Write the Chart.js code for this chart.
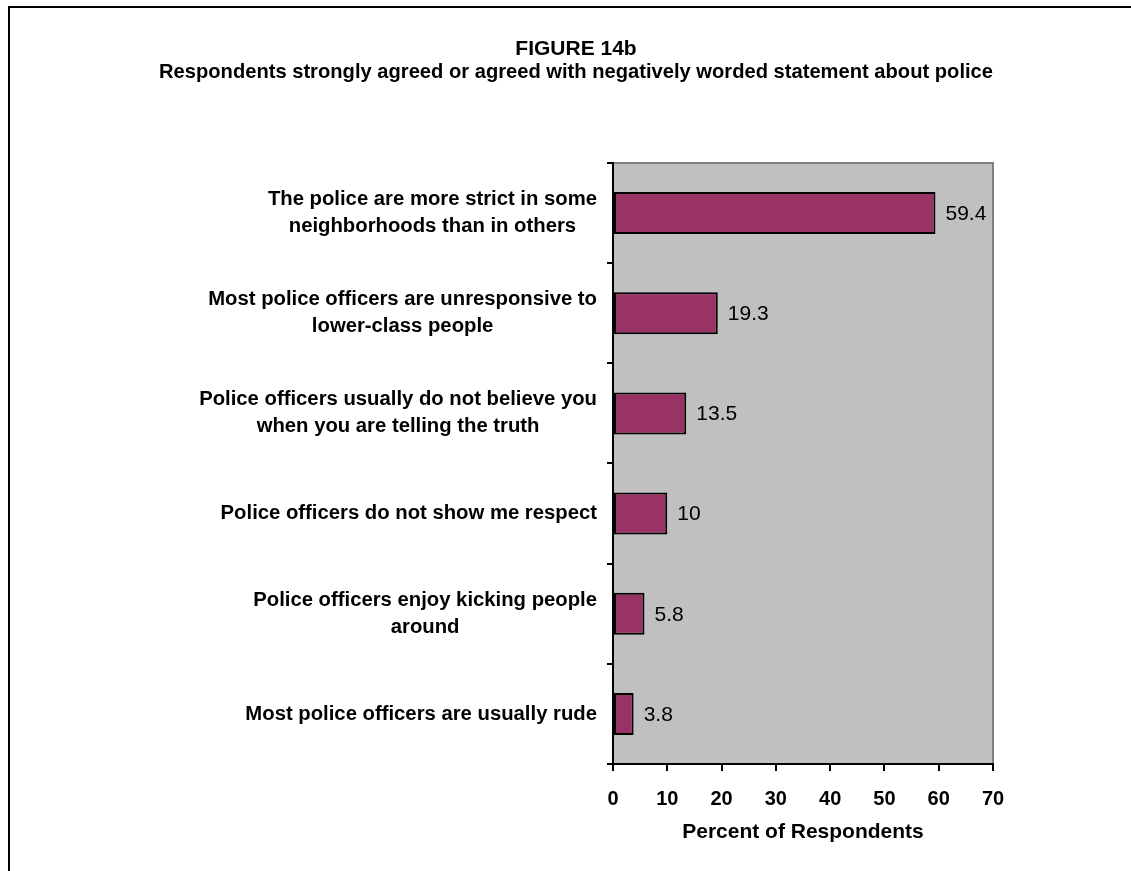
<!DOCTYPE html>
<html>
<head>
<meta charset="utf-8">
<title>Figure 14b</title>
<script src="https://cdn.jsdelivr.net/npm/chart.js@4/dist/chart.umd.min.js"></script>
<style>
    html, body { margin: 0; padding: 0; background: #fff; overflow: hidden; }
    .frame {
        position: absolute; left: 8px; top: 6px; width: 1200px; height: 1000px;
        border-top: 2px solid #000; border-left: 2px solid #000;
    }
    #fig14b { position: absolute; left: 0; top: 0; }
</style>
</head>
<body>
<div class="frame"></div>
<canvas id="fig14b" width="1131" height="871"></canvas>
<script>
var titleLines = [
    'FIGURE 14b',
    'Respondents strongly agreed or agreed with negatively worded statement about police'
];
var statements = [
    ['The police are more strict in some', 'neighborhoods than in others'],
    ['Most police officers are unresponsive to', 'lower-class people'],
    ['Police officers usually do not believe you', 'when you are telling the truth'],
    ['Police officers do not show me respect'],
    ['Police officers enjoy kicking people', 'around'],
    ['Most police officers are usually rude']
];
var percents = [59.4, 19.3, 13.5, 10, 5.8, 3.8];
var xTickValues = [0, 10, 20, 30, 40, 50, 60, 70];
var xAxisTitle = 'Percent of Respondents';

(function () {
    'use strict';

    var FONT = '"Liberation Sans", Arial, Helvetica, sans-serif';

    // grey plot area, grey edge on top and right
    var plotBackground = {
        id: 'plotBackground',
        beforeDraw: function (chart) {
            var a = chart.chartArea, ctx = chart.ctx;
            ctx.save();
            ctx.fillStyle = '#c0c0c0';
            ctx.fillRect(a.left, a.top, a.right - a.left, a.bottom - a.top);
            ctx.strokeStyle = '#808080';
            ctx.lineWidth = 2;
            ctx.beginPath();
            ctx.moveTo(a.left, a.top);
            ctx.lineTo(a.right, a.top);
            ctx.lineTo(a.right, a.bottom);
            ctx.stroke();
            ctx.restore();
        }
    };

    // category labels: block right aligned, lines centred inside the block
    var statementLabels = {
        id: 'statementLabels',
        afterDraw: function (chart) {
            var ctx = chart.ctx, y = chart.scales.y;
            var rightEdge = chart.chartArea.left - 16;
            var lineH = 27;
            ctx.save();
            ctx.font = 'bold 20.3px ' + FONT;
            ctx.fillStyle = '#000';
            ctx.textAlign = 'center';
            ctx.textBaseline = 'middle';
            statements.forEach(function (lines, i) {
                var w = 0;
                lines.forEach(function (l) { w = Math.max(w, ctx.measureText(l).width); });
                var cx = rightEdge - w / 2;
                var cy = y.getPixelForValue(i);
                lines.forEach(function (l, j) {
                    ctx.fillText(l, cx, cy + (j - (lines.length - 1) / 2) * lineH);
                });
            });
            ctx.restore();
        }
    };

    // value next to the end of each bar
    var barValues = {
        id: 'barValues',
        afterDatasetsDraw: function (chart) {
            var ctx = chart.ctx;
            var meta = chart.getDatasetMeta(0);
            ctx.save();
            ctx.font = '21px ' + FONT;
            ctx.fillStyle = '#000';
            ctx.textAlign = 'left';
            ctx.textBaseline = 'middle';
            meta.data.forEach(function (bar, i) {
                ctx.fillText(String(percents[i]), bar.x + 10, bar.y + 1);
            });
            ctx.restore();
        }
    };

    new Chart(document.getElementById('fig14b').getContext('2d'), {
        type: 'bar',
        data: {
            labels: statements,
            datasets: [{
                data: percents,
                backgroundColor: '#993366',
                borderColor: '#000',
                borderWidth: 2,
                borderSkipped: false,
                barPercentage: 0.42,
                categoryPercentage: 1
            }]
        },
        options: {
            indexAxis: 'y',
            responsive: false,
            animation: false,
            devicePixelRatio: 1,
            layout: { padding: { left: 159, right: 138, top: 0, bottom: 0 } },
            plugins: {
                legend: { display: false },
                tooltip: { enabled: false },
                title: {
                    display: true,
                    text: titleLines,
                    color: '#000',
                    font: { family: FONT, size: 21, weight: 'bold', lineHeight: 1.095 },
                    padding: { top: 38, bottom: 79 }
                }
            },
            scales: {
                y: {
                    offset: true,
                    afterFit: function (scale) { scale.width = 454; },
                    ticks: { display: false },
                    grid: {
                        offset: true,
                        drawOnChartArea: false,
                        drawTicks: true,
                        tickLength: 6,
                        color: '#000',
                        lineWidth: 2
                    },
                    border: { display: true, color: '#000', width: 2 }
                },
                x: {
                    min: 0,
                    max: 70,
                    afterFit: function (scale) { scale.height = 107; },
                    afterBuildTicks: function (scale) {
                        scale.ticks = xTickValues.map(function (v) { return { value: v }; });
                    },
                    ticks: {
                        color: '#000',
                        padding: 16,
                        font: { family: FONT, size: 20, weight: 'bold' }
                    },
                    grid: {
                        drawOnChartArea: false,
                        drawTicks: true,
                        tickLength: 7,
                        color: '#000',
                        lineWidth: 2
                    },
                    border: { display: true, color: '#000', width: 2 },
                    title: {
                        display: true,
                        text: xAxisTitle,
                        color: '#000',
                        font: { family: FONT, size: 21, weight: 'bold' },
                        padding: { top: 0, bottom: 26 }
                    }
                }
            }
        },
        plugins: [plotBackground, statementLabels, barValues]
    });
})();
</script>
</body>
</html>
